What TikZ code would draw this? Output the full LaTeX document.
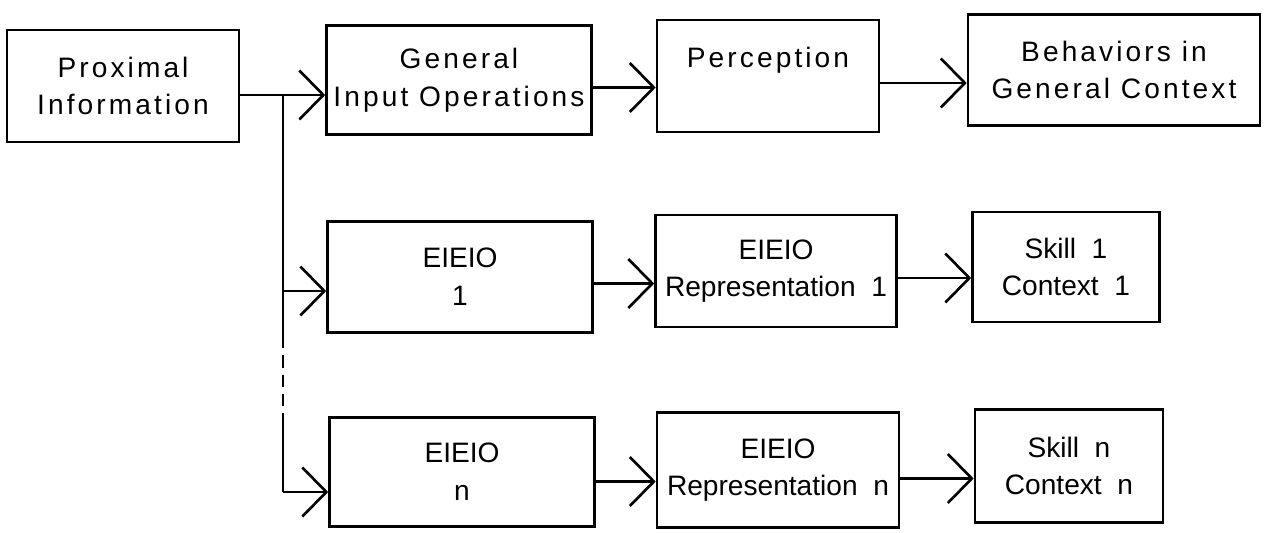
\documentclass[tikz,border=0pt]{standalone}
\usepackage{fontspec}
\setmainfont{Liberation Sans}
\newfontfamily\spaced[LetterSpace=11]{Liberation Sans}
\usetikzlibrary{arrows.meta}

\tikzset{
  box/.style={draw, line width=1.5pt, align=center, inner sep=2pt,
    font=\fontsize{16pt}{21.5pt}\selectfont},
  wbox/.style={box, font=\spaced\fontsize{16pt}{21.5pt}\selectfont},
  arr/.style={line width=1.5pt, -{Straight Barb[length=4.8mm,width=9.8mm,line width=1.5pt]}},
}

\begin{document}
\begin{tikzpicture}[x=0.02cm,y=-0.02cm,line width=1.5pt]
    \useasboundingbox (0,0) rectangle (1265,532);

    % top row
    \node[wbox, minimum width=4.64cm, minimum height=2.24cm] (prox) at (123,86) {Proximal\\Information};
    \node[wbox, minimum width=5.3cm, minimum height=2.18cm] (gen) at (459,80) {General\\Input Operations};
    \node[wbox, minimum width=4.44cm, minimum height=2.24cm] (perc) at (768,76) {Perception\\\mbox{}};
    \node[wbox, minimum width=5.84cm, minimum height=2.22cm] (beh) at (1114,70) {Behaviors in\\General Context};

    % EIEIO rows
    \node[box, minimum width=5.3cm, minimum height=2.22cm] (eio1) at (460,277) {EIEIO\\1};
    \node[box, minimum width=4.82cm, minimum height=2.24cm] (rep1) at (776,271) {EIEIO\\Representation\ \ 1};
    \node[box, minimum width=3.74cm, minimum height=2.2cm] (skl1) at (1066,267) {Skill\ \ 1\\Context\ \ 1};
    \node[box, minimum width=5.3cm, minimum height=2.18cm] (eion) at (462,472) {EIEIO\\n};
    \node[box, minimum width=4.84cm, minimum height=2.3cm] (repn) at (778,470) {EIEIO\\Representation\ \ n};
    \node[box, minimum width=3.76cm, minimum height=2.26cm] (skln) at (1069,466) {Skill\ \ n\\Context\ \ n};

    \coordinate (j1) at (283,95);
    \coordinate (b1) at (283,291);
    \coordinate (d1) at (283,336);
    \coordinate (d2) at (283,420);
    \coordinate (bn) at (283,492);

    \draw (prox.east |- j1) -- (j1);
    \draw[arr] (j1) -- (gen.west |- j1);
    \draw (j1) -- (d1);
    \draw[dash pattern=on 7pt off 4pt] (d1) -- (d2);
    \draw (d2) -- (bn);
    \draw[arr] (b1) -- (eio1.west |- b1);
    \draw[arr] (bn) -- (eion.west |- bn);

    \draw[arr] ([yshift=-0.15cm]gen.east) -- ([yshift=-0.15cm]gen.east -| perc.west);
    \draw[arr] ([yshift=-0.14cm]perc.east) -- ([yshift=-0.14cm]perc.east -| beh.west);
    \draw[arr] ([yshift=-0.13cm]eio1.east) -- ([yshift=-0.13cm]eio1.east -| rep1.west);
    \draw[arr] ([yshift=-0.14cm]rep1.east) -- ([yshift=-0.14cm]rep1.east -| skl1.west);
    \draw[arr] ([yshift=-0.19cm]eion.east) -- ([yshift=-0.19cm]eion.east -| repn.west);
    \draw[arr] ([yshift=-0.17cm]repn.east) -- ([yshift=-0.17cm]repn.east -| skln.west);
\end{tikzpicture}
\end{document}
